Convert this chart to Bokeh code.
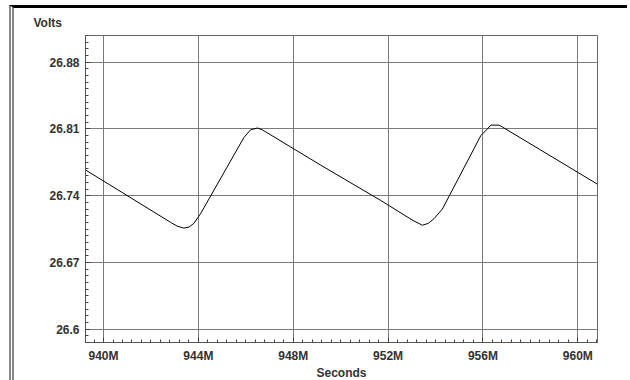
from bokeh.plotting import figure
from bokeh.models import FixedTicker, Range1d, Title
from bokeh.embed import file_html
from bokeh.resources import INLINE

# time in mega-seconds (M), voltage in volts
seconds_m = [939.24, 942.83, 943.11, 943.38, 943.60, 943.81, 944.09, 945.92, 946.20,
             946.49, 946.70, 949.16, 951.69, 953.05, 953.45, 953.70, 953.94, 954.29,
             955.91, 956.19, 956.33, 956.68, 956.82, 960.83]
volts = [26.767, 26.712, 26.708, 26.706, 26.707, 26.711, 26.721, 26.801, 26.809,
         26.811, 26.809, 26.772, 26.735, 26.714, 26.709, 26.711, 26.716, 26.726,
         26.803, 26.810, 26.814, 26.814, 26.812, 26.752]

x_ticks = [940, 944, 948, 952, 956, 960]
x_labels = ["940M", "944M", "948M", "952M", "956M", "960M"]
y_ticks = [26.6, 26.67, 26.74, 26.81, 26.88]
y_labels = ["26.6", "26.67", "26.74", "26.81", "26.88"]

FONT = "Liberation Sans"
TXT = "#333333"

p = figure(frame_width=512, frame_height=307, output_backend="svg", toolbar_location=None,
           x_range=Range1d(939.24, 960.83), y_range=Range1d(26.586, 26.908),
           min_border_left=71, min_border_right=30, min_border_top=25, min_border_bottom=30,
           background_fill_color="white", border_fill_color="white")
p.title = Title(text="Volts", align="left", offset=-52, text_font=FONT,
                text_font_size="12px", text_font_style="bold", text_color=TXT,
                standoff=11)

x_minor = [939.2 + 0.4 * i for i in range(55)]
y_minor = [26.586 + 0.007 * i for i in range(47)]
p.xaxis.ticker = FixedTicker(ticks=x_ticks, minor_ticks=x_minor)
p.yaxis.ticker = FixedTicker(ticks=y_ticks, minor_ticks=y_minor)
p.xaxis.major_label_overrides = dict(zip(x_ticks, x_labels))
p.yaxis.major_label_overrides = dict(zip(y_ticks, y_labels))

for ax in (p.xaxis, p.yaxis):
    ax.major_label_text_font = FONT
    ax.major_label_text_font_size = "12px"
    ax.major_label_text_font_style = "bold"
    ax.major_label_text_color = TXT
    ax.axis_line_color = "#555555"
    ax.major_tick_in = 5
    ax.major_tick_out = 0
    ax.minor_tick_in = 3
    ax.minor_tick_out = 0
    ax.major_tick_line_color = "#444444"
    ax.minor_tick_line_color = "#444444"
    ax.major_label_standoff = 6

p.xaxis.axis_label = "Seconds"
p.xaxis.axis_label_text_font = FONT
p.xaxis.axis_label_text_font_size = "12px"
p.xaxis.axis_label_text_font_style = "bold"
p.xaxis.axis_label_text_color = TXT
p.xaxis.axis_label_standoff = 0
p.xaxis.major_label_standoff = 6

p.xgrid.ticker = FixedTicker(ticks=x_ticks)
p.ygrid.ticker = FixedTicker(ticks=y_ticks)
p.grid.grid_line_color = "#7a7a7a"
p.grid.grid_line_width = 1

p.outline_line_color = "#666666"
p.outline_line_width = 1

p.line(seconds_m, volts, line_color="black", line_width=1)

p.styles = {"margin-top": "5px", "margin-left": "9px",
            "border-top": "3px solid #000000", "border-left": "5px double #888888"}

open("out.html", "w").write(file_html(p, INLINE))
